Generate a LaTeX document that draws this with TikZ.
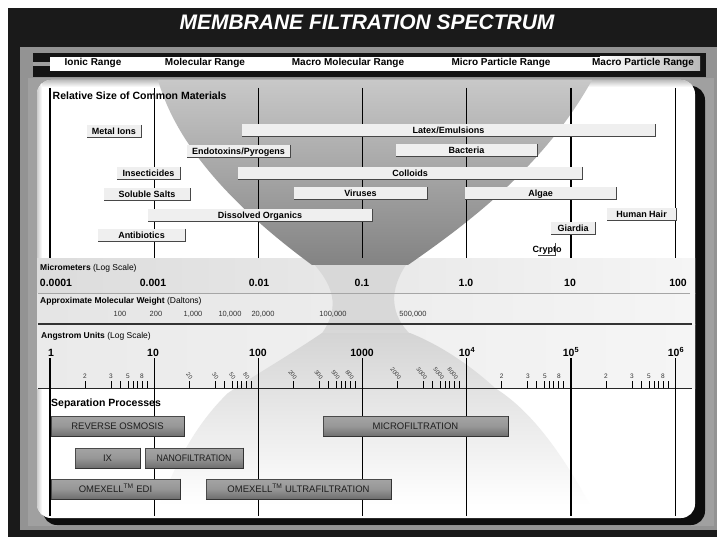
\documentclass[tikz,border=0pt]{standalone}
\usepackage{fontspec}
\setmainfont{Liberation Sans}
\definecolor{bgdark}{HTML}{1A1A1A}
\definecolor{framegray}{HTML}{939393}
\definecolor{framelite}{HTML}{A0A0A0}
\definecolor{bandA}{HTML}{DCDCDC}
\definecolor{bandB}{HTML}{F5F5F5}
\definecolor{funtop}{HTML}{C8C8C8}
\definecolor{funmid}{HTML}{8C8C8C}
\definecolor{funbot}{HTML}{838383}
\definecolor{necklite}{HTML}{D8D8D8}
\definecolor{lowtop}{HTML}{D4D4D4}
\definecolor{lowmid}{HTML}{BBBBBB}
\definecolor{barfill}{HTML}{EFEFEF}
\definecolor{baredge}{HTML}{474747}
\definecolor{ptop}{HTML}{A4A4A4}
\definecolor{pbot}{HTML}{6E6E6E}
\definecolor{pedge}{HTML}{4A4A4A}
\definecolor{ptext}{HTML}{1E1E1E}
\definecolor{mwtext}{HTML}{333333}
\newcommand\mbar[5]{%
  \node[matbar, minimum width=#4] (#1) at (#2,#3) {#5};
  \draw[edgeline] (#1.north east) -- (#1.south east) -- (#1.south west);}
\newcommand\pbox[5]{%
  \node[pbar, minimum width=#4] (#1) at (#2,#3) {#5};
  \draw[pshadow] (#1.north east) -- (#1.south east) -- (#1.south west);}
\begin{document}
\begin{tikzpicture}[x=1pt,y=-1pt,
  hdr/.style={font=\fontsize{10}{12}\selectfont\bfseries, inner sep=0, anchor=base},
  sec/.style={font=\fontsize{8.5}{10}\selectfont, inner sep=0, anchor=base west},
  bignum/.style={font=\fontsize{10.5}{12}\selectfont\bfseries, inner sep=0, anchor=base},
  mw/.style={font=\fontsize{7.5}{9}\selectfont, inner sep=0, anchor=base, text=mwtext},
  tlab/.style={font=\fontsize{6.5}{8}\selectfont, inner sep=0, anchor=base, text=mwtext},
  rlab/.style={font=\fontsize{5.8}{7}\selectfont, inner sep=0, anchor=east, rotate=-50, text=mwtext},
  decline/.style={line width=1.1pt, black},
  matbar/.style={fill=barfill, inner sep=0pt, minimum height=12, text height=6.4pt, text depth=0pt,
    font=\fontsize{9}{10}\selectfont\bfseries},
  edgeline/.style={baredge, line width=1.1pt},
  pbar/.style={draw=pedge, line width=0.6pt, top color=ptop, bottom color=pbot, middle color=ptop!75!pbot,
    inner sep=0pt, minimum height=20, text height=6.8pt, text depth=0pt,
    font=\fontsize{9.5}{11}\selectfont, text=ptext},
  pshadow/.style={black!80, line width=1.2pt}]
\useasboundingbox (0,0) rectangle (717,537);
% background and frame
\fill[white] (0,0) rectangle (717,537);
\fill[bgdark] (8,8) rectangle (717,537);
\fill[framegray] (20,47) rectangle (717,530);
\fill[framelite] (28,78) rectangle (714,526);
% title
\node[font=\fontsize{21}{24}\selectfont\bfseries\itshape, text=white, inner sep=0, anchor=base] (title) at (367,30) {MEMBRANE FILTRATION SPECTRUM};
% header band
\fill[black!92] (33,53) rectangle (706,77);
\fill[gray!75] (33,62.5) rectangle (50,66.5);
\fill[white] (50,57) rectangle (600,71);
\shade[left color=white, right color=gray!55] (600,57) rectangle (700,71);
\node[hdr] (ionic) at (93,66) {Ionic Range};
\node[hdr] (molec) at (205,66) {Molecular Range};
\node[hdr] (macromol) at (348,66) {Macro Molecular Range};
\node[hdr] (micropart) at (501,66) {Micro Particle Range};
\node[hdr] (macropart) at (643,66) {Macro Particle Range};
% panel
\fill[black!95, rounded corners=14] (43,86) rectangle (705,525);
\fill[white, rounded corners=14] (37,80) rectangle (695,518);
\begin{scope}
  \clip[rounded corners=14] (37,80) rectangle (695,518);
  \shade[top color=gray!50, bottom color=white] (37,80) rectangle (695,87);
  \shade[left color=gray!40, right color=white] (37,80) rectangle (42,518);
  % bands
  \shade[left color=bandA, right color=bandB] (37,259) rectangle (695,293);
  \shade[left color=bandA!75!white, right color=bandB] (37,293) rectangle (695,324);
  \shade[left color=bandA!60!white, right color=bandB] (37,324) rectangle (695,388);
  % neck
  \fill[necklite] (312,262) .. controls (338,290) and (338,312) .. (320,336)
        -- (412,336) .. controls (390,315) and (388,290) .. (408,262) -- cycle;
  % top funnel
  \shade[top color=funtop, middle color=funmid, bottom color=funbot]
    (158,80) .. controls (178,150) and (240,212) .. (312,265)
    -- (408,265) .. controls (470,222) and (545,165) .. (592,80) -- cycle;
  % bottom funnel
  \shade[top color=lowtop, middle color=lowmid, bottom color=white]
    (322,333) .. controls (285,358) and (250,378) .. (228,393)
    .. controls (205,415) and (180,450) .. (160,505)
    -- (590,505) .. controls (560,450) and (530,410) .. (495,388)
    .. controls (470,365) and (440,345) .. (410,333) -- cycle;
\end{scope}
% horizontal rules
\draw[gray!70, line width=0.8pt] (38,293) -- (690,293);
\draw[black!80, line width=1.7pt] (38,324) -- (692,324);
\draw[black!85, line width=0.9pt] (38,388) -- (692,388);
% decade lines
\foreach \k in {0,...,6} {
  \draw[decline] ({50+104.2*\k},88) -- ({50+104.2*\k},258);
  \draw[decline] ({50+104.2*\k},358) -- ({50+104.2*\k},516);
}
% section titles
\node[font=\fontsize{10.5}{12}\selectfont\bfseries, inner sep=0, anchor=base west] (relsize) at (52.5,100) {Relative Size of Common Materials};
\node[sec] (micro) at (40,270) {\textbf{Micrometers} (Log Scale)};
\node[sec] (mwt) at (40,303.5) {\textbf{Approximate Molecular Weight} (Daltons)};
\node[sec] (ang) at (41,338) {\textbf{Angstrom Units} (Log Scale)};
\node[font=\fontsize{10.5}{12}\selectfont\bfseries, inner sep=0, anchor=base west] (sepproc) at (51,406.5) {Separation Processes};
% micrometer numbers
\node[bignum] (um1) at (56,286) {0.0001};
\node[bignum] (um2) at (153,286) {0.001};
\node[bignum] (um3) at (259,286) {0.01};
\node[bignum] (um4) at (362,286) {0.1};
\node[bignum] (um5) at (466,286) {1.0};
\node[bignum] (um6) at (570,286) {10};
\node[bignum] (um7) at (678,286) {100};
% molecular weights
\node[mw] (mw1) at (120,316.5) {100};
\node[mw] (mw2) at (156,316.5) {200};
\node[mw] (mw3) at (193,316.5) {1,000};
\node[mw] (mw4) at (230,316.5) {10,000};
\node[mw] (mw5) at (263,316.5) {20,000};
\node[mw] (mw6) at (333,316.5) {100,000};
\node[mw] (mw7) at (413,316.5) {500,000};
% angstrom numbers
\node[bignum] (a0) at (51,356) {1};
\node[bignum] (a1) at (153,356) {10};
\node[bignum] (a2) at (258,356) {100};
\node[bignum] (a3) at (362,356) {1000};
\node[bignum] (a4) at (467,356) {10\textsuperscript{4}};
\node[bignum] (a5) at (571,356) {10\textsuperscript{5}};
\node[bignum] (a6) at (676,356) {10\textsuperscript{6}};
% ticks
\foreach \k in {0,...,5}
  \foreach \o in {35,61,70,78,83,87,92,97}
    \draw[line width=0.8pt] ({50+104.2*\k+\o},381) -- ++(0,7);
\foreach \k in {0,4,5}
  \foreach \o/\t in {35/2,61/3,78/5,92/8}
    \node[tlab] (u\k-\t) at ({50+104.2*\k+\o},378) {\t};
\foreach \k/\s in {1/0,2/00,3/000}
  \foreach \o/\t in {35/2,61/3,78/5,92/8}
    \node[rlab] (r\k-\t) at ({50+104.2*\k+\o+2.5},378.5) {\t\s};
% materials
\mbar{metal}{114}{131}{54}{Metal Ions}
\mbar{latex}{448.5}{130.5}{413}{Latex/Emulsions}
\mbar{endo}{238.5}{151}{103}{Endotoxins/Pyrogens}
\mbar{bact}{466.5}{150.5}{141}{Bacteria}
\mbar{insect}{148.5}{173}{63}{Insecticides}
\mbar{colloid}{410}{173}{344}{Colloids}
\mbar{salts}{147}{194.5}{86}{Soluble Salts}
\mbar{virus}{360.5}{193.5}{133}{Viruses}
\mbar{algae}{540.5}{193.5}{151}{Algae}
\mbar{dorg}{260}{215.5}{224}{Dissolved Organics}
\mbar{hair}{641.5}{214}{69}{Human Hair}
\mbar{antib}{141.5}{235}{87}{Antibiotics}
\mbar{giardia}{573}{228.5}{44}{Giardia}
\node[font=\fontsize{9}{10}\selectfont\bfseries, inner sep=0, anchor=base] (crypto) at (547,253) {Crypto};
\coordinate (cryA) at (555,243);
\coordinate (cryB) at (555,255.5);
\coordinate (cryC) at (538,255.5);
\draw[edgeline, line width=0.9pt] (cryA) -- (cryB) -- (cryC);
% separation processes
\pbox{ro}{117.5}{426.5}{133}{REVERSE OSMOSIS}
\pbox{mf}{415.5}{426.5}{185}{MICROFILTRATION}
\pbox{ix}{107.5}{458}{65}{IX}
\pbox{nf}{194}{458}{98}{\scalebox{0.92}[1]{NANOFILTRATION}}
\pbox{edi}{115.5}{489}{129}{OMEXELL\textsuperscript{TM} EDI}
\pbox{uf}{298.5}{489}{185}{OMEXELL\textsuperscript{TM} ULTRAFILTRATION}
\end{tikzpicture}
\end{document}
